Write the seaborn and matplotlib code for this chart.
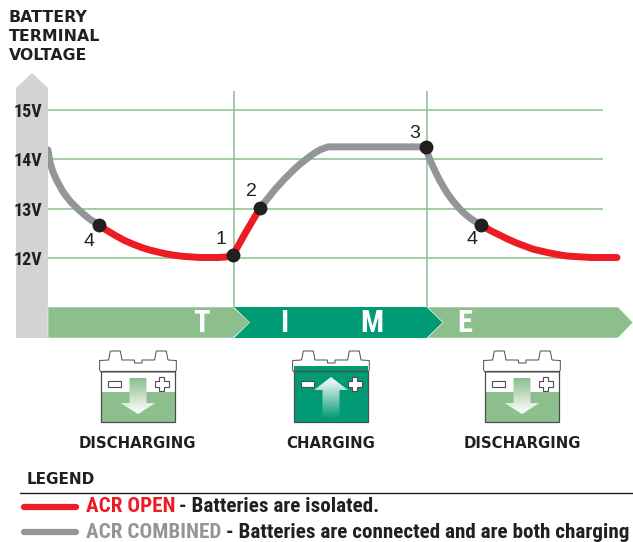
import numpy as np
import pandas as pd
import matplotlib
matplotlib.use("Agg")
import matplotlib.pyplot as plt
from matplotlib.patches import Polygon, Rectangle
import seaborn as sns

# curve values: time position and volts
gray1_t = [48, 49, 50, 52, 54, 57, 60, 63, 67, 71, 75, 79, 83, 87, 91, 95, 98.5]
gray1_v = [14.19, 14.06, 13.94, 13.80, 13.69, 13.56, 13.45, 13.34, 13.23, 13.13, 13.05, 12.97, 12.90, 12.83, 12.77, 12.72, 12.67]
red1_t = [98.5, 106, 115, 124, 133, 142, 150, 158, 167, 176, 185, 193, 200, 209, 218, 226, 233]
red1_v = [12.67, 12.57, 12.46, 12.36, 12.28, 12.21, 12.16, 12.12, 12.08, 12.05, 12.03, 12.02, 12.01, 12.01, 12.01, 12.02, 12.06]
red2_t = [233, 246, 260]
red2_v = [12.06, 12.53, 13.01]
gray2_t = [260, 265, 270, 275, 280, 285, 290, 295, 300, 305, 310, 315, 320, 324, 328, 425.5]
gray2_v = [13.01, 13.14, 13.26, 13.39, 13.50, 13.61, 13.71, 13.81, 13.90, 13.98, 14.06, 14.13, 14.19, 14.22, 14.25, 14.25]
gray3_t = [425.5, 427, 429, 431, 433, 436, 440, 444, 448, 452, 456, 460, 464, 468, 472, 476, 481]
gray3_v = [14.25, 14.15, 14.04, 13.94, 13.85, 13.72, 13.56, 13.42, 13.29, 13.18, 13.08, 12.99, 12.91, 12.84, 12.78, 12.73, 12.67]
red3_t = [481, 490, 499, 508, 517, 525, 533, 541, 550, 558, 567, 575, 583, 592, 600, 608, 617]
red3_v = [12.67, 12.56, 12.47, 12.38, 12.30, 12.24, 12.18, 12.14, 12.10, 12.07, 12.04, 12.03, 12.02, 12.01, 12.01, 12.01, 12.01]

point_labels = ["4", "1", "2", "3", "4"]
point_t = [98.5, 233, 260, 425.5, 481]
point_v = [12.67, 12.06, 13.01, 14.25, 12.67]

volts = [12, 13, 14, 15]
volt_labels = ["12V", "13V", "14V", "15V"]
phase_t = [233.5, 427]

RED = "#ed1c24"
GRAY = "#939598"
BAND = "#d1d3d4"
LIGHT = "#8dbf8d"
DARK = "#009a74"
INK = "#231f20"
NARROW = ["Roboto Condensed", "Roboto", "DejaVu Sans"]
WIDE = ["DejaVu Sans"]

sns.set_theme(style="white")
plt.rcParams["lines.solid_capstyle"] = "round"
plt.rcParams["lines.solid_joinstyle"] = "round"

segments = [("a", "closed", gray1_t, gray1_v), ("b", "open", red1_t, red1_v),
            ("c", "open", red2_t, red2_v), ("d", "closed", gray2_t, gray2_v),
            ("e", "closed", gray3_t, gray3_v), ("f", "open", red3_t, red3_v)]
df = pd.concat([pd.DataFrame({"seg": s, "state": st, "t": t, "v": v}) for s, st, t, v in segments])

fig = plt.figure(figsize=(6.33, 5.42), dpi=100)

# background layer in pixels, for the band, arrows and batteries
bg = fig.add_axes([0, 0, 1, 1])
bg.set_xlim(0, 633)
bg.set_ylim(542, 0)
bg.axis("off")


def y_to_v(y):
    return 12 + (258 - y) / 49.4


def grad_poly(ax, pts, top, bottom):
    # polygon filled with a vertical gradient
    pts = np.array(pts)
    patch = Polygon(pts, closed=True, fc="none", ec="none")
    ax.add_patch(patch)
    c0 = np.array(matplotlib.colors.to_rgb(top))
    c1 = np.array(matplotlib.colors.to_rgb(bottom))
    grad = np.linspace(0, 1, 64)[:, None, None] * (c1 - c0) + c0
    im = ax.imshow(grad, extent=(pts[:, 0].min(), pts[:, 0].max(), pts[:, 1].max(), pts[:, 1].min()),
                   aspect="auto", zorder=3, interpolation="bilinear")
    im.set_clip_path(patch)
    ax.set_xlim(0, 633)
    ax.set_ylim(542, 0)


def battery(ax, x0, charging):
    # x0 is the left edge of the case
    shape = [(-1.4, 10.5), (7.6, 10), (9.3, 1), (19.3, 1), (21, 10), (33.3, 10), (33.5, 13), (41, 13), (41, 10),
             (53.6, 10), (55.3, 1), (65.3, 1), (67, 10), (75.3, 10.5), (75.3, 20), (74, 22), (0, 22), (-1.4, 20)]
    lid = [(x0 + a, 350 + b) for a, b in shape]
    ax.add_patch(Polygon(lid, closed=True, fc="white", ec="#4d4d4f", lw=0.7, zorder=2))
    if charging:
        ax.add_patch(Rectangle((x0, 365.5), 74, 56.5, fc=DARK, ec="none", zorder=2))
    else:
        ax.add_patch(Rectangle((x0, 392), 74, 30, fc=LIGHT, ec="none", zorder=2))
    ax.add_patch(Rectangle((x0, 371), 74, 51, fc="none", ec="#4d4d4f", lw=0.9, zorder=4))
    minus_fc = "white" if charging else "none"
    ax.add_patch(Rectangle((x0 + 6.5, 381), 13.5, 5.5, fc=minus_fc, ec="#4d4d4f", lw=0.8, zorder=5))
    cx, cy = x0 + 60.5, 384
    a, b = 2.7, 7
    plus = [(cx - a, cy - b), (cx + a, cy - b), (cx + a, cy - a), (cx + b, cy - a), (cx + b, cy + a), (cx + a, cy + a),
            (cx + a, cy + b), (cx - a, cy + b), (cx - a, cy + a), (cx - b, cy + a), (cx - b, cy - a), (cx - a, cy - a)]
    ax.add_patch(Polygon(plus, closed=True, fc=minus_fc, ec="#4d4d4f", lw=0.8, zorder=5))
    mid = x0 + 37
    if charging:
        up = [(mid, 377), (mid + 17, 390), (mid + 8.5, 390), (mid + 8.5, 419), (mid - 8.5, 419), (mid - 8.5, 390), (mid - 17, 390)]
        grad_poly(ax, up, "#ffffff", DARK)
    else:
        down = [(mid - 8.5, 378), (mid + 8.5, 378), (mid + 8.5, 403), (mid + 17.5, 403), (mid, 414), (mid - 17.5, 403), (mid - 8.5, 403)]
        grad_poly(ax, down, LIGHT, "#ffffff")


# voltage axis band
bg.add_patch(Polygon([(16, 338), (16, 88), (32, 73), (48, 88), (48, 338)], closed=True, fc=BAND, ec="none"))

# time arrows
bg.add_patch(Polygon([(48, 307), (233, 307), (250, 322.5), (233, 338), (48, 338)], closed=True, fc=LIGHT, ec="white", lw=0.4, zorder=2))
bg.add_patch(Polygon([(234, 307), (427, 307), (443, 322.5), (427, 338), (234, 338), (250, 322.5)], closed=True, fc=DARK, ec="none", zorder=2))
bg.add_patch(Polygon([(427, 307), (618, 307), (633, 322.5), (618, 338), (427, 338), (443, 322.5)], closed=True, fc=LIGHT, ec="white", lw=0.4, zorder=2))
for s, x in zip("TIME", [202, 284, 372, 465]):
    bg.text(x, 323, s, color="white", fontsize=22, fontweight="bold", ha="center", va="center", family=NARROW, zorder=3)

battery(bg, 101, False)
battery(bg, 294, True)
battery(bg, 485, False)

for s, x in zip(["DISCHARGING", "CHARGING", "DISCHARGING"], [137.5, 331, 522]):
    bg.text(x, 444, s, color=INK, fontsize=10.7, fontweight="bold", ha="center", va="center", family=WIDE)

for s, y in zip(["BATTERY", "TERMINAL", "VOLTAGE"], [17.5, 36.5, 56]):
    bg.text(9, y, s, color=INK, fontsize=11.3, fontweight="bold", ha="left", va="center", family=WIDE)

# legend
bg.text(27, 479, "LEGEND", color=INK, fontsize=11, fontweight="bold", ha="left", va="center", family=WIDE)
bg.plot([20, 633], [493, 493], color=INK, lw=1)
bg.plot([24, 76], [507, 507], color=RED, lw=4.5)
bg.plot([24, 76], [532, 532], color=GRAY, lw=4.5)
bg.text(86, 507, "ACR OPEN", color=RED, fontsize=15.2, fontweight="bold", va="center", family=NARROW)
bg.text(179, 507, "- Batteries are isolated.", color=INK, fontsize=15.2, fontweight="bold", va="center", family=NARROW)
bg.text(86, 532, "ACR COMBINED", color=GRAY, fontsize=15.2, fontweight="bold", va="center", family=NARROW)
bg.text(226, 532, "- Batteries are connected and are both charging", color=INK, fontsize=15.2, fontweight="bold", va="center", family=NARROW)

# chart layer: x in time units, y in volts
ax = fig.add_axes([48 / 633, (542 - 340) / 542, (633 - 48) / 633, (340 - 75) / 542])
ax.patch.set_alpha(0)
ax.set_xlim(48, 633)
ax.set_ylim(y_to_v(340), y_to_v(75))
sns.despine(ax=ax, left=True, bottom=True)
ax.hlines(volts, 48, 603, color=LIGHT, lw=1.1, zorder=1)
ax.vlines(phase_t, y_to_v(308), y_to_v(91), color=LIGHT, lw=1.1, zorder=1)
sns.lineplot(data=df, x="t", y="v", hue="state", units="seg", estimator=None, sort=False,
             palette={"open": RED, "closed": GRAY}, lw=5, legend=False, ax=ax, zorder=3)
sns.scatterplot(x=point_t, y=point_v, color=INK, s=100, linewidth=0, ax=ax, zorder=4, clip_on=False)

ax.set_yticks(volts)
ax.set_yticklabels(volt_labels, family=NARROW, fontweight="bold", fontsize=13, color=INK)
ax.tick_params(axis="y", length=0, pad=4)
ax.set_xticks([])
ax.set_xlabel("")
ax.set_ylabel("")

label_t = [89, 221, 251, 415, 472]
label_v = [y_to_v(241), y_to_v(240), y_to_v(192), y_to_v(133), y_to_v(240)]
for s, t, v in zip(point_labels, label_t, label_v):
    ax.text(t, v, s, color=INK, fontsize=14, ha="center", va="center", family=["Liberation Sans"])

fig.savefig("out.png", dpi=100)
